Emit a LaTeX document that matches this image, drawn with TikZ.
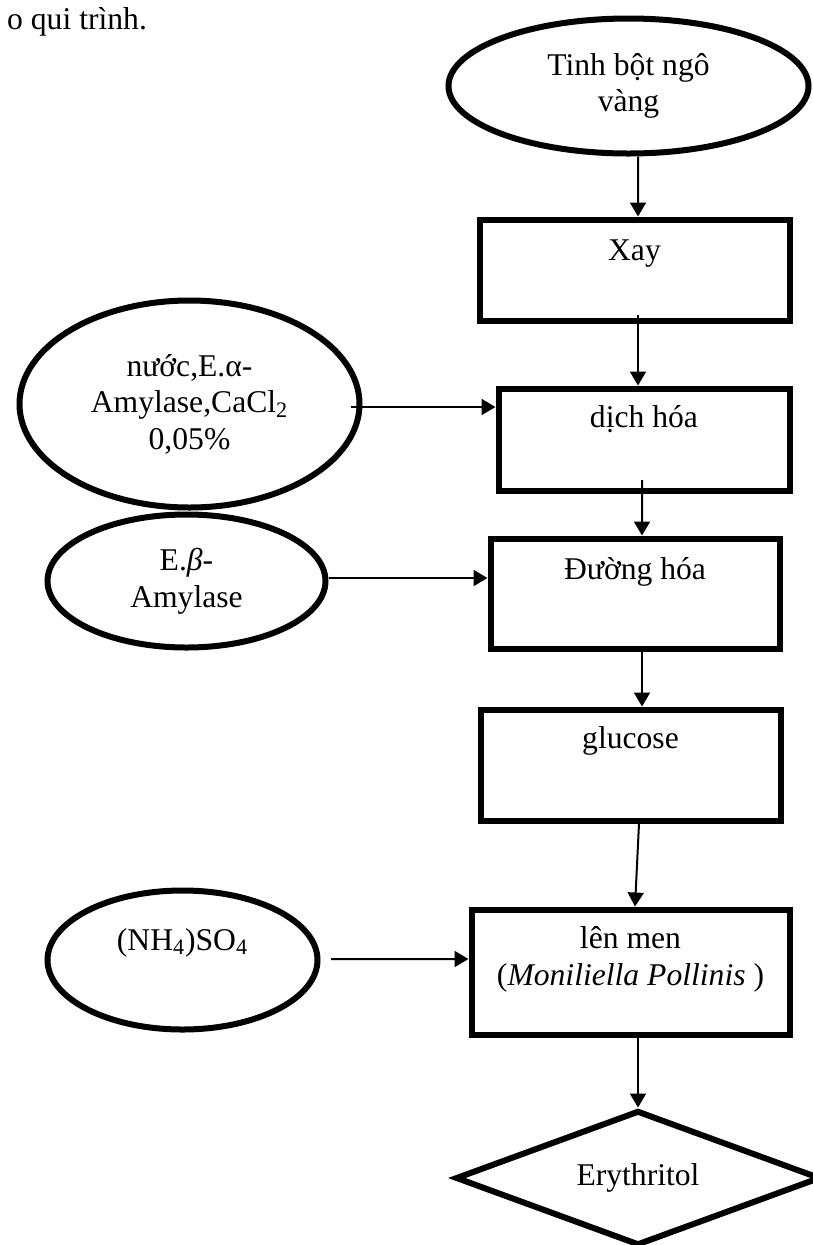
\documentclass[tikz,border=0pt]{standalone}
\usepackage{fontspec}
\setmainfont{Liberation Serif}
\usetikzlibrary{shapes.geometric,arrows.meta}

\begin{document}
\begin{tikzpicture}[font=\fontsize{18}{20.8}\selectfont]%[show background grid]
\tikzstyle{ingred} = [draw, ellipse, line width=0.12cm, align=center, inner sep=0pt]
\tikzstyle{stepbox} = [draw, rectangle, line width=0.12cm, align=center, inner sep=0pt]
\tikzstyle{flow} = [line width=0.04cm, -{Triangle[length=0.28cm,width=0.32cm]}]

\useasboundingbox (0,0) rectangle (16.26,-24.9);

\path (0.02,-0.58) node[anchor=base west] (caption) {o qui trình.};

% chuoi chinh
\path (12.57,-1.72) node[ingred,minimum width=7.2cm,minimum height=2.7cm] (start) {Tinh bột ngô\\vàng};
\path (12.69,-5.40) node[stepbox,minimum width=6.2cm,text height=0.81cm,text depth=1.21cm] (xay) {Xay};
\path (12.88,-8.79) node[stepbox,minimum width=5.82cm,text height=0.77cm,text depth=1.27cm] (dich) {dịch hóa};
\path (12.70,-11.87) node[stepbox,minimum width=5.78cm,text height=0.81cm,text depth=1.39cm] (duong) {Đường hóa};
\path (12.61,-15.30) node[stepbox,minimum width=6.0cm,text height=0.77cm,text depth=1.45cm] (glucose) {glucose};
\path (12.61,-19.44) node[stepbox,minimum width=6.36cm,text height=1.51cm,text depth=0.99cm] (lenmen) {lên men\\(\textit{Moniliella Pollinis} )};
\path (12.76,-23.56) node[draw,diamond,line width=0.12cm,aspect=2.7,inner sep=0pt,minimum width=7.3cm,minimum height=2.7cm] (product) {Erythritol};

% nguyen lieu them vao
\path (3.79,-8.08) node[ingred,minimum width=6.8cm,minimum height=4.14cm] (water) {nước,E.α-\\Amylase,CaCl\textsubscript{2}\\0,05\%};
\path (3.73,-11.62) node[ingred,minimum width=5.56cm,minimum height=2.66cm] (enzyme) {E.\textit{β}-\\Amylase};
\path (3.65,-19.20) node[ingred,minimum width=5.4cm,minimum height=2.78cm,text height=0.45cm,text depth=0.85cm] (salt) {(NH\textsubscript{4})SO\textsubscript{4}};

\draw[flow] ([xshift=0.19cm]start.south) -- ([xshift=0.07cm]xay.north);
\draw[flow] ([xshift=0.07cm,yshift=0.17cm]xay.south) -- ([xshift=-0.12cm]dich.north);
\draw[flow] ([xshift=-0.04cm,yshift=0.27cm]dich.south) -- ([xshift=0.14cm]duong.north);
\draw[flow] ([xshift=0.14cm]duong.south) -- ([xshift=0.23cm]glucose.north);
\draw[flow] ([xshift=0.17cm]glucose.south) -- ([xshift=0.09cm]lenmen.north);
\draw[flow] ([xshift=0.15cm,yshift=0.05cm]lenmen.south) -- (product.north);

\draw[flow] ([xshift=-0.24cm,yshift=-0.06cm]water.east) -- ([yshift=0.65cm]dich.west);
\draw[flow] ([yshift=0.06cm]enzyme.east) -- ([yshift=0.31cm]duong.west);
\draw[flow] ([xshift=0.21cm,yshift=0.02cm]salt.east) -- ([yshift=0.26cm]lenmen.west);

\end{tikzpicture}
\end{document}
